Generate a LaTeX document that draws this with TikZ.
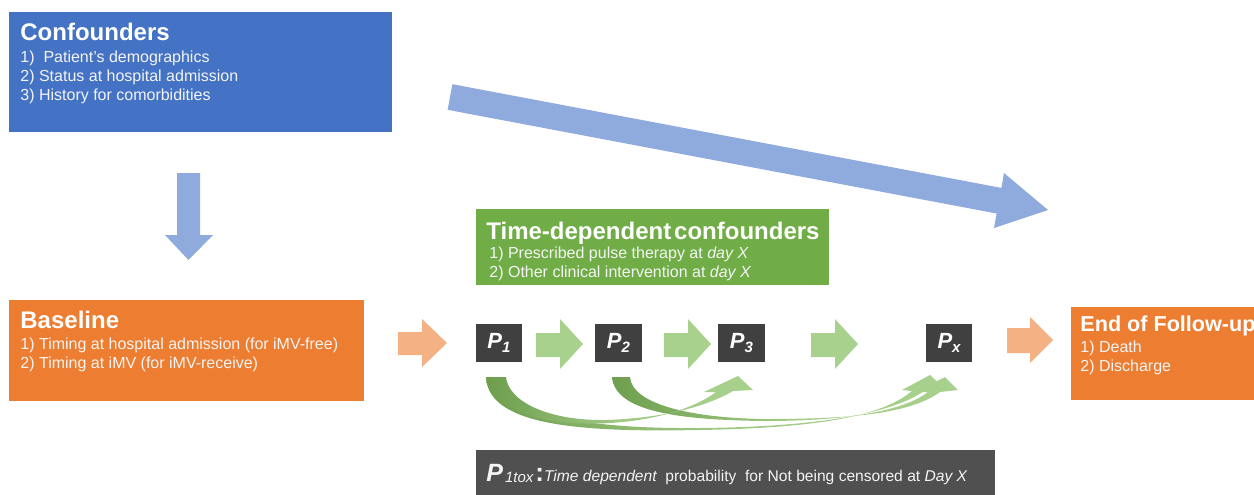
\documentclass[tikz,border=0pt]{standalone}
\usepackage{fontspec}
\setmainfont{Liberation Sans}
\usetikzlibrary{calc}
\definecolor{cblue}{HTML}{4472C4}
\definecolor{lblue}{HTML}{8FAADC}
\definecolor{cgreen}{HTML}{70AD47}
\definecolor{lgreen}{HTML}{A9D18E}
\definecolor{dgreen}{HTML}{6E9E4E}
\definecolor{corange}{HTML}{ED7D31}
\definecolor{lorange}{HTML}{F4B183}
\definecolor{pbox}{HTML}{404040}
\definecolor{notebox}{HTML}{505050}
\definecolor{bodytxt}{HTML}{F4F4F4}
\begin{document}
\begin{tikzpicture}[x=0.5pt,y=-0.5pt,
  box/.style={draw=none, inner sep=0, anchor=north west},
  ttl/.style={anchor=base west, inner sep=0, text=white, font=\fontsize{12pt}{14pt}\selectfont\bfseries},
  txt/.style={anchor=base west, inner sep=0, text=bodytxt, font=\fontsize{8pt}{9pt}\selectfont},
  pnode/.style={fill=pbox, inner sep=0, minimum width=23.25pt, minimum height=19pt, text=white, font=\fontsize{11pt}{12pt}\selectfont\bfseries\itshape},
  rib/.style={left color=dgreen, right color=lgreen, middle color=lgreen!85!dgreen}
]
\useasboundingbox (0,0) rectangle (1254,494);
\clip (0,0) rectangle (1254,494);

% ---------- boxes ----------
\node[box, fill=cblue, minimum width=191.5pt, minimum height=60pt] (conf) at (9,12) {};
\node[ttl] (conft) at (20,40) {Confounders};
\node[txt] (conf1) at (20,62) {1)\ \ Patient's\ demographics};
\node[txt] (conf2) at (20,81) {2)\ Status\ at hospital\ admission};
\node[txt] (conf3) at (20,100) {3)\ History\ for comorbidities};

\node[box, fill=cgreen, minimum width=176.5pt, minimum height=38pt] (tdc) at (476,209) {};
\node[ttl] (tdct) at (486,239) {Time-dependent\hspace{0.12em}confounders};
\node[txt] (tdc1) at (489,258) {1)\ Prescribed\ pulse\ therapy at \textit{day X}};
\node[txt] (tdc2) at (489,277) {2)\ Other\ clinical\ intervention\ at \textit{day X}};

\node[box, fill=corange, minimum width=177.5pt, minimum height=50.5pt] (base) at (9,300) {};
\node[ttl] (baset) at (20,328) {Baseline};
\node[txt] (base1) at (20,349) {1)\ Timing\ at hospital\ admission\ (for iMV-free)};
\node[txt] (base2) at (20,368) {2)\ Timing\ at iMV\ (for iMV-receive)};

\node[box, fill=corange, minimum width=94.5pt, minimum height=46.5pt] (endf) at (1071,307) {};
\node[ttl, font=\fontsize{10.8pt}{12pt}\selectfont\bfseries] (endt) at (1080,331) {End of Follow-up};
\node[txt] (end1) at (1080,352) {1) Death};
\node[txt] (end2) at (1080,371) {2) Discharge};

\node[box, fill=notebox, minimum width=259.5pt, minimum height=25pt] (note) at (476,450) {};
\node[anchor=base west, inner sep=0, text=bodytxt] (notet) at (486,481)
  {{\fontsize{12.5pt}{14pt}\selectfont\bfseries\itshape P}\hspace{0.1em}\raisebox{-0.15ex}{\fontsize{7.5pt}{9pt}\selectfont\itshape 1tox}\hspace{0.1em}{\fontsize{13pt}{14pt}\selectfont\bfseries :}{\fontsize{7.8pt}{9pt}\selectfont\itshape Time dependent}{\fontsize{7.8pt}{9pt}\selectfont\ \ probability\ \ for Not\ being\ censored\ at \textit{Day X}}};

% ---------- P boxes ----------
\node[pnode] (p1) at (499,343) {P\raisebox{-0.3ex}{\fontsize{7.5pt}{8pt}\selectfont 1}};
\node[pnode] (p2) at (618.5,343) {P\raisebox{-0.3ex}{\fontsize{7.5pt}{8pt}\selectfont 2}};
\node[pnode] (p3) at (741.5,343) {P\raisebox{-0.3ex}{\fontsize{7.5pt}{8pt}\selectfont 3}};
\node[pnode] (px) at (949,343) {P\raisebox{-0.3ex}{\fontsize{7.5pt}{8pt}\selectfont x}};

% ---------- block arrows ----------
% down arrow
\fill[lblue] (177,173) -- (200,173) -- (200,235) -- (213,235) -- (188.5,260) -- (165,235) -- (177,235) -- cycle;
% diagonal arrow
\fill[lblue] (452.4,84.2) -- (1001.4,187.9) -- (1004,173) -- (1048,210) -- (994,228) -- (996.6,213.5) -- (447.6,109.8) -- cycle;
% orange arrows
\fill[lorange] (398,332) -- (422,332) -- (422,319) -- (447,343) -- (422,367) -- (422,355) -- (398,355) -- cycle;
\fill[lorange] (1007,328) -- (1030,328) -- (1030,317) -- (1053,340) -- (1030,363) -- (1030,353) -- (1007,353) -- cycle;
% green arrows
\foreach \a in {536,664,811}{
  \fill[lgreen] (\a,333) -- (\a+24,333) -- (\a+24,319) -- (\a+47,344) -- (\a+24,369) -- (\a+24,357) -- (\a,357) -- cycle;
}

% ---------- curved ribbons ----------
\shade[rib] (486,377) .. controls (488,428) and (590,432) .. (700,430) .. controls (810,428) and (880,418) .. (912,391)
  -- (902,390) -- (930,375) -- (946,390) -- (924,391)
  .. controls (890,415) and (810,427) .. (700,428) .. controls (600,429) and (504,418) .. (502,377) -- cycle;
\shade[rib] (612,377) .. controls (615,412) and (680,420) .. (765,421) .. controls (850,421) and (905,410) .. (928,392)
  -- (916,392) -- (945,377) -- (958,390) -- (940,392)
  .. controls (910,414) and (850,419) .. (765,419) .. controls (690,418) and (632,404) .. (630,377) -- cycle;
\shade[rib] (489,377) .. controls (494,418) and (560,426) .. (610,423) .. controls (660,420) and (698,406) .. (716,392)
  -- (704,392) -- (738,376) -- (753,390) -- (733,391)
  .. controls (700,410) and (655,418) .. (607,420) .. controls (545,421) and (508,400) .. (506,377) -- cycle;
\end{tikzpicture}
\end{document}
